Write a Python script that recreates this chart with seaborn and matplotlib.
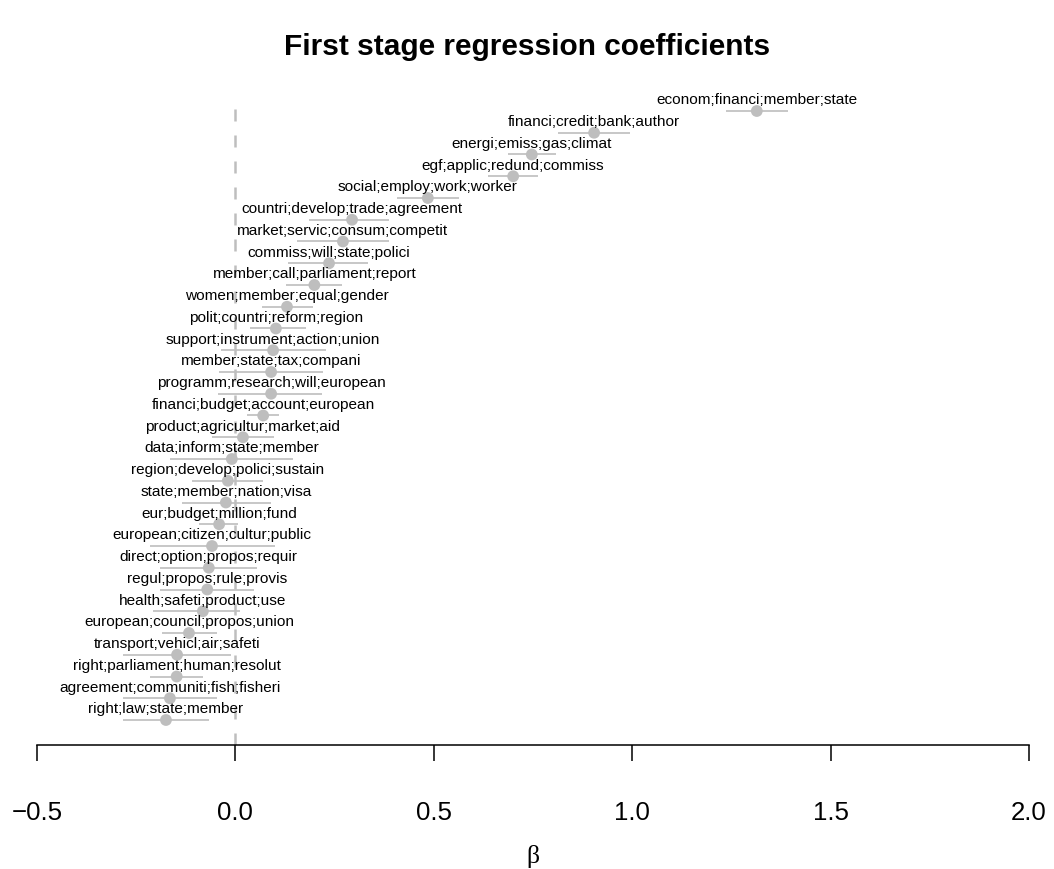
import numpy as np
import pandas as pd
import matplotlib
matplotlib.use("Agg")
import matplotlib.pyplot as plt
import seaborn as sns

topics = [
    "econom;financi;member;state",
    "financi;credit;bank;author",
    "energi;emiss;gas;climat",
    "egf;applic;redund;commiss",
    "social;employ;work;worker",
    "countri;develop;trade;agreement",
    "market;servic;consum;competit",
    "commiss;will;state;polici",
    "member;call;parliament;report",
    "women;member;equal;gender",
    "polit;countri;reform;region",
    "support;instrument;action;union",
    "member;state;tax;compani",
    "programm;research;will;european",
    "financi;budget;account;european",
    "product;agricultur;market;aid",
    "data;inform;state;member",
    "region;develop;polici;sustain",
    "state;member;nation;visa",
    "eur;budget;million;fund",
    "european;citizen;cultur;public",
    "direct;option;propos;requir",
    "regul;propos;rule;provis",
    "health;safeti;product;use",
    "european;council;propos;union",
    "transport;vehicl;air;safeti",
    "right;parliament;human;resolut",
    "agreement;communiti;fish;fisheri",
    "right;law;state;member",
]
beta = [1.314, 0.904, 0.747, 0.700, 0.485, 0.294, 0.271, 0.236, 0.199, 0.130,
        0.102, 0.095, 0.090, 0.090, 0.070, 0.019, -0.009, -0.019, -0.024, -0.041,
        -0.059, -0.067, -0.071, -0.082, -0.117, -0.147, -0.148, -0.165, -0.175]
ci_low = [1.236, 0.813, 0.687, 0.637, 0.407, 0.186, 0.155, 0.133, 0.128, 0.067,
          0.037, -0.036, -0.041, -0.044, 0.029, -0.059, -0.165, -0.110, -0.134, -0.092,
          -0.215, -0.190, -0.190, -0.208, -0.185, -0.283, -0.215, -0.283, -0.283]
ci_high = [1.393, 0.994, 0.808, 0.763, 0.564, 0.388, 0.388, 0.334, 0.269, 0.196,
           0.178, 0.228, 0.221, 0.219, 0.110, 0.098, 0.146, 0.070, 0.090, 0.007,
           0.100, 0.054, 0.047, 0.012, -0.047, -0.011, -0.082, -0.047, -0.067]
x_ticks = [-0.5, 0.0, 0.5, 1.0, 1.5, 2.0]
x_tick_labels = ["\u22120.5", "0.0", "0.5", "1.0", "1.5", "2.0"]

sns.set_theme(style="white")
plt.rcParams["font.family"] = ["Liberation Sans", "DejaVu Sans"]
plt.rcParams["text.color"] = "black"
plt.rcParams["xtick.color"] = "black"
plt.rcParams["xtick.labelcolor"] = "black"

df = pd.DataFrame({"topic": topics, "beta": beta, "lo": ci_low, "hi": ci_high})
df["pos"] = np.arange(len(df))[::-1]

W, H = 1054, 869
fig = plt.figure(figsize=(W / 100, H / 100), dpi=100)
ax = fig.add_axes([37 / W, 1 - 745 / H, (1029 - 37) / W, (745 - 97) / H])

grey = "#bebebe"
ax.axvline(0, color=grey, lw=1.8, linestyle=(0, (4.8, 5.6)), zorder=1)
ax.hlines(df["pos"], df["lo"], df["hi"], color=grey, lw=1.2, zorder=2)
sns.scatterplot(data=df, x="beta", y="pos", ax=ax, color=grey, s=72,
                edgecolor="none", linewidth=0, zorder=3, legend=False)
for _, r in df.iterrows():
    ax.annotate(r["topic"], (r["beta"], r["pos"]), xytext=(0, 4.7),
                textcoords="offset points", ha="center", va="baseline",
                fontsize=11.1, color="black", zorder=4)

n = len(df)
ax.set_xlim(-0.5, 2.0)
ax.set_ylim(-25 / 21.75, (n - 1) + 14 / 21.75)
ax.set_yticks([])
ax.set_xticks(x_ticks)
ax.set_xticklabels(x_tick_labels, fontsize=18.6, color="black")
ax.tick_params(axis="x", direction="out", length=11.5, width=1.1, color="black",
               pad=29, bottom=True)
for s in ["top", "left", "right"]:
    ax.spines[s].set_visible(False)
ax.spines["bottom"].set_color("black")
ax.spines["bottom"].set_linewidth(1.1)
ax.set_xlabel("")
ax.set_ylabel("")

fig.text(533 / W, 1 - 857 / H, "\u03b2", ha="center", va="center", fontsize=18.6,
         family=["Liberation Serif", "DejaVu Serif"], color="black")
fig.text(527 / W, 1 - 55 / H, "First stage regression coefficients", ha="center",
         va="baseline", fontsize=21.5, fontweight="bold", color="black")

fig.savefig("out.png", dpi=100)
